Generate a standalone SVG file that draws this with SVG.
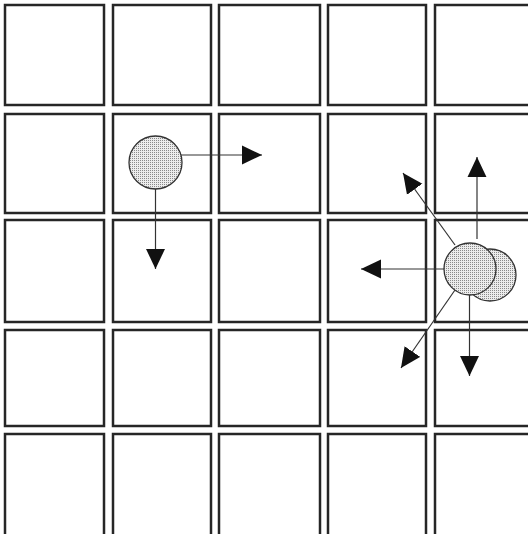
<svg xmlns="http://www.w3.org/2000/svg" width="528" height="534" viewBox="0 0 528 534">
  <defs>
    <pattern id="dots" width="2" height="2" patternUnits="userSpaceOnUse">
      <rect width="2" height="2" fill="#ececec"/>
      <rect width="1" height="1" fill="#8a8a8a"/>
    </pattern>
    <marker id="ah" markerUnits="userSpaceOnUse" markerWidth="20" markerHeight="20" viewBox="0 -9 19 18" refX="19" refY="0" orient="auto">
      <path d="M0,-9 L19,0 L0,9 Z" fill="#111"/>
    </marker>
  </defs>
  <style>
    .cell { fill: #fff; stroke: #262626; stroke-width: 2.5; }
    .ball { fill: url(#dots); stroke: #333; stroke-width: 1.3; }
    .move { fill: none; stroke: #333; stroke-width: 1.2; marker-end: url(#ah); }
  </style>
  <rect width="528" height="534" fill="#fff"/>
  <g id="grid">
    <rect class="cell" x="5" y="5" width="99" height="100"/>
    <rect class="cell" x="113" y="5" width="98" height="100"/>
    <rect class="cell" x="219" y="5" width="101" height="100"/>
    <rect class="cell" x="328" y="5" width="98" height="100"/>
    <rect class="cell" x="435" y="5" width="110" height="100"/>

    <rect class="cell" x="5" y="114" width="99" height="99"/>
    <rect class="cell" x="113" y="114" width="98" height="99"/>
    <rect class="cell" x="219" y="114" width="101" height="99"/>
    <rect class="cell" x="328" y="114" width="98" height="99"/>
    <rect class="cell" x="435" y="114" width="110" height="99"/>

    <rect class="cell" x="5" y="220" width="99" height="102"/>
    <rect class="cell" x="113" y="220" width="98" height="102"/>
    <rect class="cell" x="219" y="220" width="101" height="102"/>
    <rect class="cell" x="328" y="220" width="98" height="102"/>
    <rect class="cell" x="435" y="220" width="110" height="102"/>

    <rect class="cell" x="5" y="330" width="99" height="96"/>
    <rect class="cell" x="113" y="330" width="98" height="96"/>
    <rect class="cell" x="219" y="330" width="101" height="96"/>
    <rect class="cell" x="328" y="330" width="98" height="96"/>
    <rect class="cell" x="435" y="330" width="110" height="96"/>

    <rect class="cell" x="5" y="434" width="99" height="120"/>
    <rect class="cell" x="113" y="434" width="98" height="120"/>
    <rect class="cell" x="219" y="434" width="101" height="120"/>
    <rect class="cell" x="328" y="434" width="98" height="120"/>
    <rect class="cell" x="435" y="434" width="110" height="120"/>
  </g>
  <g id="connectors">
    <line class="move" x1="181" y1="155" x2="262" y2="155"/>
    <line class="move" x1="155.5" y1="189" x2="155.5" y2="269"/>
    <line class="move" x1="477" y1="239" x2="477" y2="157"/>
    <line class="move" x1="455" y1="245" x2="403" y2="173"/>
    <line class="move" x1="444" y1="269" x2="361" y2="269"/>
    <line class="move" x1="455" y1="290" x2="401" y2="368"/>
    <line class="move" x1="469.5" y1="295" x2="469.5" y2="376"/>
  </g>
  <g id="ball-a">
    <circle class="ball" cx="155.5" cy="162.5" r="26.5"/>
  </g>
  <g id="ball-b-back">
    <circle class="ball" cx="490" cy="275" r="26"/>
  </g>
  <g id="ball-b">
    <circle class="ball" cx="470" cy="269" r="26"/>
  </g>
</svg>
